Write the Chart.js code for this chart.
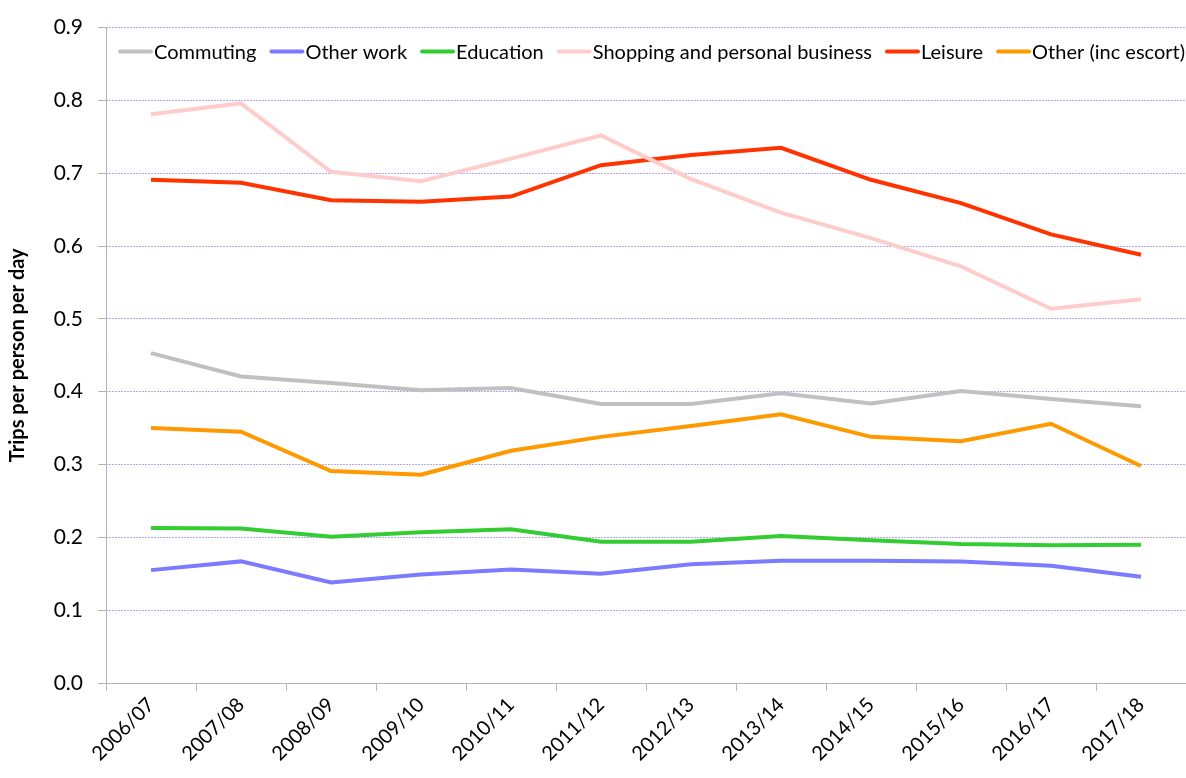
<!DOCTYPE html>
<html lang="en">
<head>
    <meta charset="UTF-8">
    <title>Trips per person per day by purpose</title>
    <script src="https://cdn.jsdelivr.net/npm/chart.js"></script>
    <style>
        body { margin: 0; background: #fff; }
        #wrap { width: 1186px; height: 778px; }
    </style>
</head>
<body>
    <div id="wrap"><canvas id="tripsChart" width="1186" height="778"></canvas></div>

    <script>
        const years = ["2006/07", "2007/08", "2008/09", "2009/10", "2010/11", "2011/12",
                       "2012/13", "2013/14", "2014/15", "2015/16", "2016/17", "2017/18"];

        const commuting = [0.453, 0.421, 0.412, 0.402, 0.405, 0.383, 0.383, 0.398, 0.384, 0.401, 0.390, 0.380];
        const otherWork = [0.155, 0.167, 0.138, 0.149, 0.156, 0.150, 0.163, 0.168, 0.168, 0.167, 0.161, 0.146];
        const education = [0.213, 0.212, 0.201, 0.207, 0.211, 0.194, 0.194, 0.202, 0.196, 0.191, 0.189, 0.190];
        const shopping  = [0.781, 0.796, 0.702, 0.689, 0.720, 0.752, 0.692, 0.646, 0.611, 0.572, 0.514, 0.527];
        const leisure   = [0.691, 0.687, 0.663, 0.661, 0.668, 0.711, 0.725, 0.735, 0.691, 0.659, 0.616, 0.588];
        const otherEsc  = [0.350, 0.345, 0.291, 0.286, 0.319, 0.338, 0.353, 0.369, 0.338, 0.332, 0.356, 0.298];

        const yTicks = [0, 0.1, 0.2, 0.3, 0.4, 0.5, 0.6, 0.7, 0.8, 0.9];

        const FONT = "Lato, 'Open Sans', sans-serif";
        const AXIS_GREY = "#b4b4b4";

        function series(label, data, color) {
            return {
                label: label,
                data: data,
                borderColor: color,
                backgroundColor: color,
                borderWidth: 4,
                pointRadius: 0,
                tension: 0,
                fill: false
            };
        }

        // legend drawn inside the plot, one row across the top
        const insideLegend = {
            id: "insideLegend",
            afterDraw(chart) {
                const c = chart.ctx;
                const y = chart.chartArea.top + 24;
                let x = chart.chartArea.left + 12;
                c.save();
                c.font = "20px " + FONT;
                c.textBaseline = "middle";
                c.fillStyle = "#000";
                chart.data.datasets.forEach(ds => {
                    c.strokeStyle = ds.borderColor;
                    c.lineWidth = 4;
                    c.lineCap = "round";
                    c.beginPath();
                    c.moveTo(x + 2, y);
                    c.lineTo(x + 33, y);
                    c.stroke();
                    c.fillText(ds.label, x + 36, y + 1);
                    x += 36 + c.measureText(ds.label).width + 13;
                });
                c.restore();
            }
        };

        // solid grey axis lines on top of the dotted grid
        const axisLines = {
            id: "axisLines",
            beforeDatasetsDraw(chart) {
                const a = chart.chartArea;
                const c = chart.ctx;
                c.save();
                c.strokeStyle = AXIS_GREY;
                c.lineWidth = 1;
                c.beginPath();
                c.moveTo(a.left + 0.5, a.top);
                c.lineTo(a.left + 0.5, a.bottom);
                c.moveTo(a.left, a.bottom + 0.5);
                c.lineTo(a.right, a.bottom + 0.5);
                c.stroke();
                c.restore();
            }
        };

        const ctx = document.getElementById("tripsChart").getContext("2d");

        new Chart(ctx, {
            type: "line",
            data: {
                labels: years,
                datasets: [
                    series("Commuting", commuting, "#c0c0c0"),
                    series("Other work", otherWork, "#7b7bff"),
                    series("Education", education, "#33cc33"),
                    series("Shopping and personal business", shopping, "#ffcccc"),
                    series("Leisure", leisure, "#ff3300"),
                    series("Other (inc escort)", otherEsc, "#ff9900")
                ]
            },
            plugins: [axisLines, insideLegend],
            options: {
                responsive: false,
                animation: false,
                layout: { padding: { left: 6, right: 0, top: 22, bottom: 0 } },
                plugins: {
                    tooltip: { enabled: false },
                    legend: { display: false }
                },
                scales: {
                    x: {
                        offset: true,
                        afterFit: axis => { axis.height = 95; },
                        grid: {
                            offset: true,
                            drawOnChartArea: false,
                            drawTicks: true,
                            tickLength: 8,
                            tickColor: AXIS_GREY
                        },
                        border: { display: false },
                        ticks: {
                            minRotation: 45,
                            maxRotation: 45,
                            color: "#000",
                            padding: 2,
                            font: { family: FONT, size: 20 }
                        }
                    },
                    y: {
                        min: 0,
                        max: 0.9,
                        afterFit: axis => { axis.width = 100; },
                        afterBuildTicks: function (axis) {
                            axis.ticks = yTicks.map(v => ({ value: v }));
                        },
                        title: {
                            display: true,
                            text: "Trips per person per day",
                            color: "#000",
                            font: { family: FONT, size: 20, weight: "bold" },
                            padding: { top: 0, bottom: 0 }
                        },
                        grid: {
                            color: "#b3a8f4",
                            tickColor: AXIS_GREY,
                            tickBorderDash: [],
                            tickLength: 8
                        },
                        border: { display: false, dash: [2, 1] },
                        ticks: {
                            color: "#000",
                            padding: 15,
                            font: { family: FONT, size: 21 },
                            callback: v => Number(v).toFixed(1)
                        }
                    }
                }
            }
        });
    </script>
</body>
</html>
